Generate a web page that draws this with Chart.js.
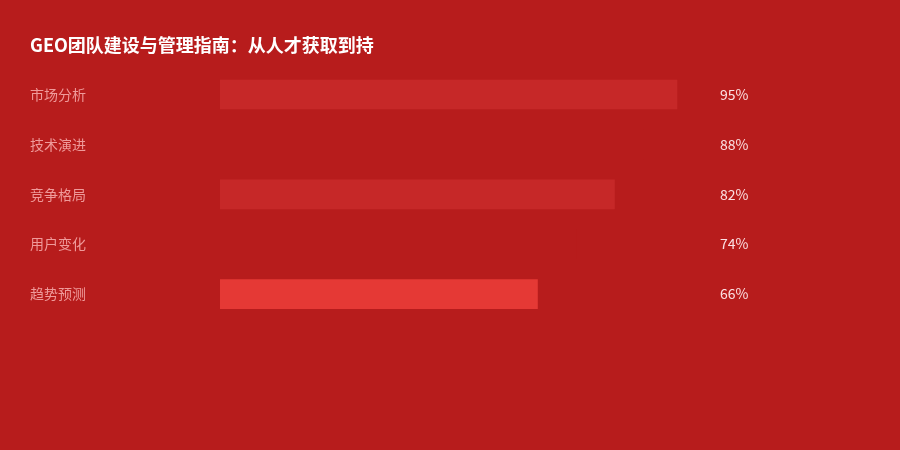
<!DOCTYPE html>
<html>
<head>
<meta charset="utf-8">
<script src="https://cdn.jsdelivr.net/npm/chart.js@4"></script>
<style>
  html, body { margin: 0; padding: 0; background: #b71c1c; }
  #wrap { width: 900px; height: 450px; }
</style>
</head>
<body>
<div id="wrap"><canvas id="chart" width="900" height="450"></canvas></div>
<script>
// ── Data ──
const categories = ['市场分析', '技术演进', '竞争格局', '用户变化', '趋势预测'];
const values = [95, 88, 82, 74, 66];
const barColors = ['#c62828', '#b71c1c', '#c62828', '#b71c1c', '#e53935'];

const FONT = '"Noto Sans CJK SC", "Noto Sans", sans-serif';

// value labels to the right of the plot area
const valueLabels = {
    id: 'valueLabels',
    afterDatasetsDraw(chart) {
        const { ctx, chartArea } = chart;
        const meta = chart.getDatasetMeta(0);
        ctx.save();
        ctx.font = '14px ' + FONT;
        ctx.fillStyle = 'rgba(255,235,238,0.95)';
        ctx.textAlign = 'left';
        ctx.textBaseline = 'middle';
        meta.data.forEach((bar, i) => {
            ctx.fillText(values[i] + '%', chartArea.right + 19, bar.y);
        });
        ctx.restore();
    }
};

new Chart(document.getElementById('chart').getContext('2d'), {
    type: 'bar',
    data: {
        labels: categories,
        datasets: [{
            data: values,
            backgroundColor: barColors,
            borderWidth: 0,
            barThickness: 29
        }]
    },
    options: {
        indexAxis: 'y',
        responsive: false,
        animation: false,
        layout: { padding: { left: 30, right: 199, top: 0, bottom: 131 } },
        plugins: {
            legend: { display: false },
            tooltip: { enabled: false },
            title: {
                display: true,
                text: 'GEO团队建设与管理指南：从人才获取到持',
                align: 'start',
                color: '#ffffff',
                font: { family: FONT, size: 18, weight: 'bold' },
                padding: { top: 34, bottom: 14 }
            }
        },
        scales: {
            x: { display: false, min: 0, max: 100 },
            y: {
                grid: { display: false },
                border: { display: false },
                ticks: {
                    color: '#ef9a9a',
                    crossAlign: 'far',
                    font: { family: FONT, size: 14 }
                },
                afterFit(scale) { scale.width = 190; }
            }
        }
    },
    plugins: [valueLabels]
});
</script>
</body>
</html>
